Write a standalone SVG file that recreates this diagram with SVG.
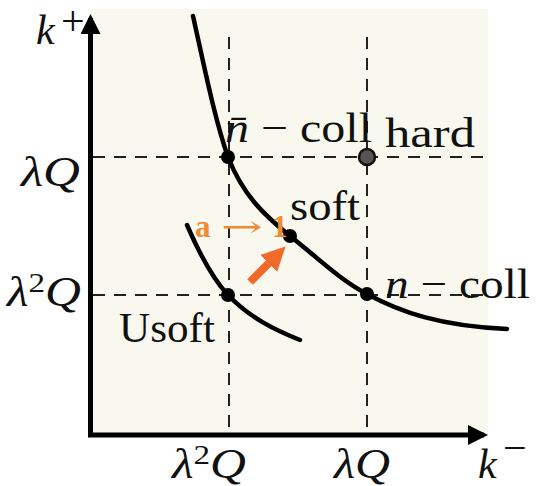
<svg xmlns="http://www.w3.org/2000/svg" width="551" height="486" viewBox="0 0 551 486">
<style>
.t{font-family:"Liberation Serif","DejaVu Serif",serif;font-size:42px;fill:#111}
.i{font-style:italic}
.d{stroke:#222;stroke-width:2;stroke-dasharray:12 9;fill:none}
.c{stroke:#000;stroke-width:4.5;fill:none;stroke-linecap:round}
.ax{stroke:#000;stroke-width:5;fill:none}
.dot{fill:#000}
.o{font-family:"Liberation Serif",serif;font-weight:bold;font-size:31px;fill:#f08a35}
</style>
<defs>
<marker id="ah" viewBox="0 0 10 10" refX="8" refY="5" markerWidth="4" markerHeight="4" orient="auto" markerUnits="strokeWidth">
<path d="M0,0 L10,5 L0,10 z" fill="#000"/>
</marker>
<marker id="oh" viewBox="0 0 10 10" refX="2" refY="5" markerWidth="3" markerHeight="3.2" orient="auto" markerUnits="strokeWidth">
<path d="M0,0 L10,5 L0,10 z" fill="#f26a2b"/>
</marker>
</defs>
<rect x="91" y="9" width="397" height="426" fill="#f8f8ee"/>
<g id="grid">
<line class="d" x1="229" y1="37" x2="229" y2="433"/>
<line class="d" x1="367" y1="37" x2="367" y2="433"/>
<line class="d" x1="93" y1="157" x2="487" y2="157"/>
<line class="d" x1="93" y1="295" x2="487" y2="295"/>
</g>
<g id="connectors">
<path class="c" d="M193,16 C205,70 215,120 228,157 C243,195 263,214 290,236 C318,258 340,280 367,294 C400,312 440,326 507,329"/>
<path class="c" d="M187,225 C200,255 212,278 228,295 C250,318 275,330 300,340"/>
<line x1="90.5" y1="437" x2="90.5" y2="18" class="ax" marker-end="url(#ah)"/>
<line x1="88" y1="435" x2="484" y2="435" class="ax" marker-end="url(#ah)"/>
<line x1="250" y1="282" x2="272" y2="260" stroke="#f26a2b" stroke-width="8" marker-end="url(#oh)"/>
</g>
<g id="nbar-coll">
<circle class="dot" cx="228" cy="157" r="7"/>
<text class="t" x="225" y="142" textLength="147" lengthAdjust="spacingAndGlyphs"><tspan class="i">n̄</tspan> − coll</text>
</g>
<g id="hard">
<circle cx="367" cy="157" r="8" fill="#555" stroke="#111" stroke-width="2.5"/>
<text class="t" x="385" y="147" textLength="90" lengthAdjust="spacingAndGlyphs">hard</text>
</g>
<g id="soft">
<circle class="dot" cx="290" cy="236" r="7"/>
<text class="t" x="290" y="220" textLength="70" lengthAdjust="spacingAndGlyphs">soft</text>
</g>
<g id="n-coll">
<circle class="dot" cx="367" cy="294" r="7"/>
<text class="t" x="385" y="298" textLength="145" lengthAdjust="spacingAndGlyphs"><tspan class="i">n</tspan> − coll</text>
</g>
<g id="usoft">
<circle class="dot" cx="228" cy="295" r="7"/>
<text class="t" x="119" y="342" textLength="96" lengthAdjust="spacingAndGlyphs">Usoft</text>
</g>
<g id="labels">
<text class="o" x="195" y="237">a<tspan x="221" font-family="DejaVu Serif,serif" font-weight="normal" font-size="30" textLength="42" lengthAdjust="spacingAndGlyphs">→</tspan><tspan x="272">1</tspan></text>
<text class="t i" x="36" y="44">k</text>
<text class="t" x="61" y="35" font-size="30">+</text>
<text class="t i" x="21" y="186" textLength="59" lengthAdjust="spacingAndGlyphs">λQ</text>
<text class="t" x="7" y="306" textLength="74" lengthAdjust="spacingAndGlyphs"><tspan class="i">λ</tspan><tspan font-size="28" dy="-14">2</tspan><tspan class="i" dy="14">Q</tspan></text>
<text class="t" x="172" y="478" textLength="74" lengthAdjust="spacingAndGlyphs"><tspan class="i">λ</tspan><tspan font-size="28" dy="-14">2</tspan><tspan class="i" dy="14">Q</tspan></text>
<text class="t i" x="334" y="478" textLength="56" lengthAdjust="spacingAndGlyphs">λQ</text>
<text class="t i" x="478" y="478">k</text>
<text class="t" x="503" y="462" font-size="30">−</text>
</g>
</svg>
